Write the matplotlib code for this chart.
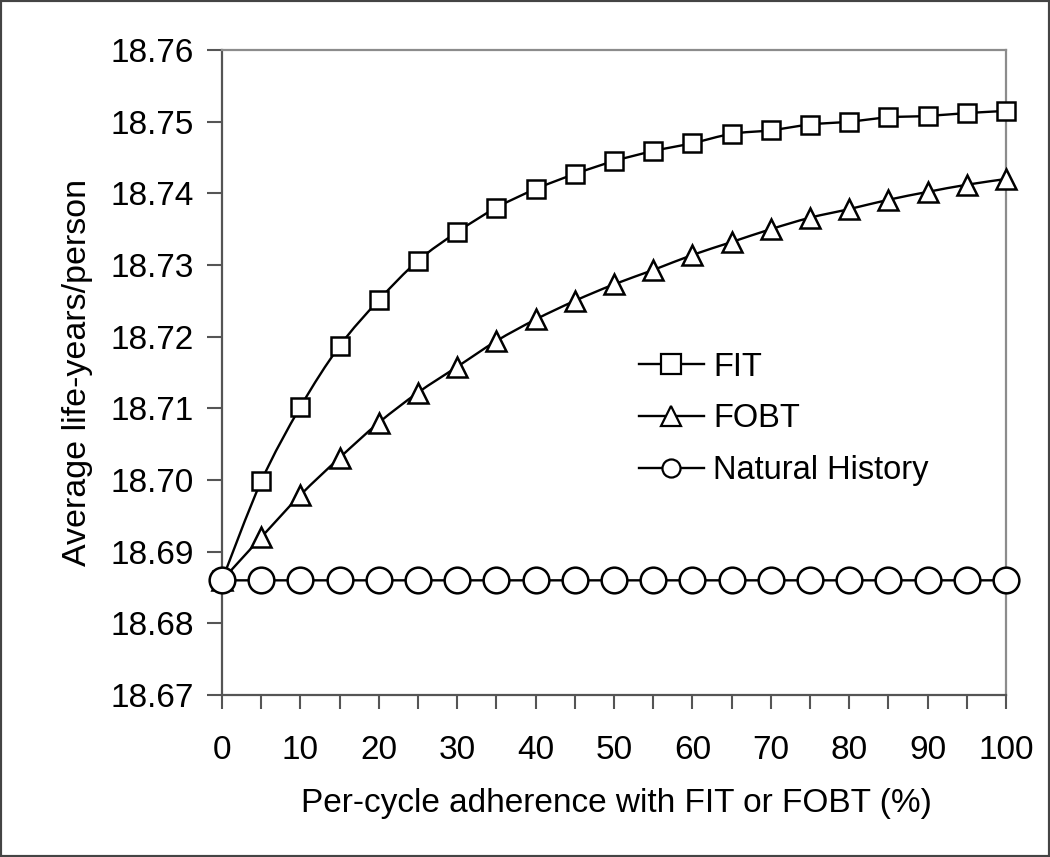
import numpy as np
import matplotlib
matplotlib.use("Agg")
import matplotlib.pyplot as plt
from matplotlib.path import Path
from matplotlib.patches import PathPatch, Rectangle
from matplotlib.lines import Line2D
from matplotlib import font_manager as fm
from matplotlib.ticker import MultipleLocator, FormatStrFormatter

# ---------------- data ----------------
adherence = list(range(0, 101, 5))
fit = [18.6860, 18.6998, 18.7102, 18.7187, 18.7251, 18.7306, 18.7346, 18.7380,
       18.7406, 18.7427, 18.7445, 18.7459, 18.7470, 18.7483, 18.7488, 18.7496,
       18.7500, 18.7506, 18.7508, 18.7512, 18.7515]
fobt = [18.6860, 18.6920, 18.6979, 18.7031, 18.7080, 18.7122, 18.7158, 18.7194,
        18.7224, 18.7250, 18.7273, 18.7293, 18.7314, 18.7332, 18.7350, 18.7366,
        18.7378, 18.7391, 18.7402, 18.7412, 18.7420]
natural = [18.686] * 21
series_labels = ["FIT", "FOBT", "Natural History"]
x_label = "Per-cycle adherence with FIT or FOBT (%)"
y_label = "Average life-years/person"


def has_font(name):
    try:
        fm.findfont(fm.FontProperties(family=name), fallback_to_default=False)
        return True
    except Exception:
        return False


base_font = "Liberation Sans" if has_font("Liberation Sans") else "DejaVu Sans"
plt.rcParams["font.family"] = [base_font, "DejaVu Sans"]

W, H = 1050, 857
fig = plt.figure(figsize=(W / 100, H / 100), dpi=100)
ax = fig.add_axes([222 / W, 1 - 695 / H, (1006 - 222) / W, (695 - 50) / H])
ax.set_xlim(0, 100)
ax.set_ylim(18.67, 18.76)


def smooth_path(xs, ys):
    pts = np.column_stack([xs, ys]).astype(float)
    n = len(pts)
    verts = [pts[0]]
    codes = [Path.MOVETO]
    for i in range(n - 1):
        p0 = pts[i - 1] if i > 0 else pts[i]
        p1 = pts[i]
        p2 = pts[i + 1]
        p3 = pts[i + 2] if i + 2 < n else pts[i + 1]
        c1 = p1 + (p2 - p0) / 6.0
        c2 = p2 - (p3 - p1) / 6.0
        verts += [c1, c2, p2]
        codes += [Path.CURVE4] * 3
    return Path(verts, codes)


styles = [(fit, "s", 13.5), (fobt, "^", 14.5), (natural, "o", 18.5)]
for i, (ys, mk, ms) in enumerate(styles):
    ax.add_patch(PathPatch(smooth_path(adherence, ys), fill=False, ec="black",
                           lw=1.7, zorder=2 + i * 0.1, clip_on=False))
    ax.plot(adherence, ys, ls="none", marker=mk, ms=ms, mfc="white", mec="black",
            mew=1.8, zorder=3 + i * 0.1, clip_on=False)

# spines
for s in ["left", "bottom"]:
    ax.spines[s].set_color("#555555")
    ax.spines[s].set_linewidth(1.6)
for s in ["top", "right"]:
    ax.spines[s].set_color("#8c8c8c")
    ax.spines[s].set_linewidth(1.6)

ax.yaxis.set_major_locator(MultipleLocator(0.01))
ax.yaxis.set_major_formatter(FormatStrFormatter("%.2f"))
ax.xaxis.set_major_locator(MultipleLocator(10))
ax.xaxis.set_minor_locator(MultipleLocator(5))
ax.tick_params(axis="y", direction="out", length=11, width=1.5, color="#555555",
               pad=9.5, labelsize=24)
ax.tick_params(axis="x", which="both", direction="out", length=10, width=1.5,
               color="#555555", pad=19, labelsize=24)

fig.text(616 / W, 1 - 812 / H, x_label, ha="center", va="baseline", fontsize=24)
fig.text(78 / W, 1 - 372 / H, y_label, ha="center", va="center", rotation=90,
         fontsize=24.5)

handles = [Line2D([], [], color="black", lw=1.7, marker="s", ms=14, mfc="white",
                  mec="black", mew=1.6),
           Line2D([], [], color="black", lw=1.7, marker="^", ms=14.5, mfc="white",
                  mec="black", mew=1.6),
           Line2D([], [], color="black", lw=1.7, marker="o", ms=13, mfc="white",
                  mec="black", mew=1.6)]
fig.legend(handles, series_labels, loc="center left",
           bbox_to_anchor=(639 / W, 1 - 419 / H), bbox_transform=fig.transFigure,
           frameon=False, borderpad=0, borderaxespad=0, fontsize=23.5,
           handlelength=1.98, handletextpad=0.3, labelspacing=0.64)

fig.patches.append(Rectangle((0, 0), 1, 1, transform=fig.transFigure, fill=False,
                             ec="#444444", lw=3, zorder=10))

fig.savefig("out.png", dpi=100)
